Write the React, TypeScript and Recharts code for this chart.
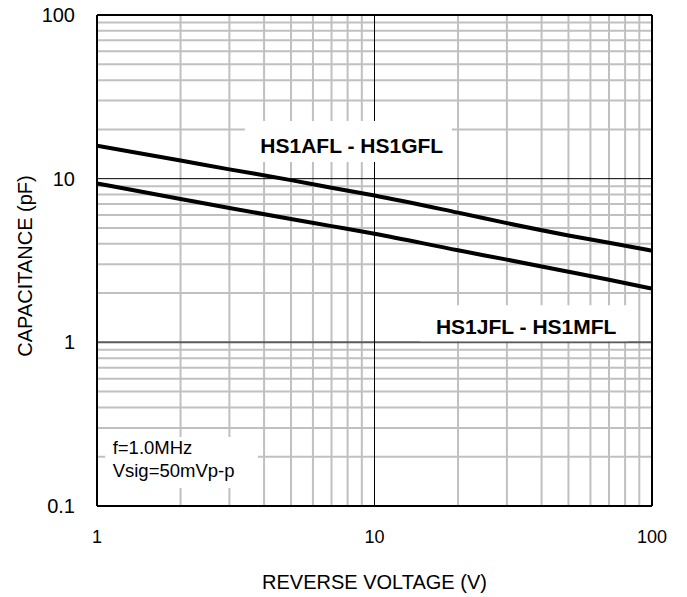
import React from 'react';
import {
  LineChart,
  Line,
  XAxis,
  YAxis,
  ReferenceLine,
  ReferenceDot,
  Label,
} from 'recharts';

// Reverse voltage (V)
const voltage = [1, 2, 3, 5, 7, 10, 20, 30, 50, 70, 100];
// Capacitance (pF), HS1AFL - HS1GFL
const capAtoG = [15.9, 12.9, 11.4, 9.8, 8.8, 7.9, 6.2, 5.35, 4.5, 4.06, 3.63];
// Capacitance (pF), HS1JFL - HS1MFL
const capJtoM = [9.36, 7.52, 6.62, 5.67, 5.13, 4.61, 3.65, 3.2, 2.7, 2.41, 2.13];

const xTickValues = [1, 10, 100];
const yTickValues = [0.1, 1, 10, 100];
const xMinorLines = [2, 3, 4, 5, 6, 7, 8, 9, 20, 30, 40, 50, 60, 70, 80, 90];
const yMinorLines = [
  0.2, 0.3, 0.4, 0.5, 0.6, 0.7, 0.8, 0.9, 2, 3, 4, 5, 6, 7, 8, 9, 20, 30, 40, 50, 60, 70, 80, 90,
];
const xMajorLines = [10];
const yMajorLines = [10];
const yUnitLines = [1];

const seriesLabels = ['HS1AFL - HS1GFL', 'HS1JFL - HS1MFL'];
const conditionLines = ['f=1.0MHz', 'Vsig=50mVp-p'];
const xAxisTitle = 'REVERSE VOLTAGE (V)';
const yAxisTitle = 'CAPACITANCE (pF)';

const data = voltage.map((v, i) => ({ v, ag: capAtoG[i], jm: capJtoM[i] }));

const FONT = '"Liberation Sans", Arial, Helvetica, sans-serif';

const boldLabel = (text: string) => (props: any) => {
  const vb = props.viewBox || {};
  const x = (vb.x || 0) + (vb.width || 0) / 2;
  const y = (vb.y || 0) + (vb.height || 0) / 2;
  return (
    <text
      x={x}
      y={y}
      dy="0.36em"
      textAnchor="middle"
      fontFamily={FONT}
      fontSize={21}
      fontWeight="bold"
      fill="#000"
    >
      {text}
    </text>
  );
};

const conditionLabel = (props: any) => {
  const vb = props.viewBox || {};
  const x = (vb.x || 0) + (vb.width || 0) / 2;
  const y = (vb.y || 0) + (vb.height || 0) / 2;
  return (
    <g>
      {conditionLines.map((t, i) => (
        <text
          key={i}
          x={x}
          y={y + i * 22.5}
          dy="0.36em"
          textAnchor="start"
          fontFamily={FONT}
          fontSize={18.5}
          fill="#000"
        >
          {t}
        </text>
      ))}
    </g>
  );
};

const yTitle = () => {
  const cx = 25;
  const cy = 266;
  return (
    <text
      x={cx}
      y={cy}
      dy="0.36em"
      transform={`rotate(-90, ${cx}, ${cy})`}
      textAnchor="middle"
      fontFamily={FONT}
      fontSize={20}
      fill="#000"
    >
      {yAxisTitle}
    </text>
  );
};

export default function App() {
  return (
    <div style={{ position: 'absolute', left: 0, top: 0 }}>
      <LineChart
        width={687}
        height={597}
        data={data}
        margin={{ top: 15, right: 35, left: 0, bottom: 0 }}
      >
        <XAxis
          dataKey="v"
          type="number"
          scale="log"
          domain={[1, 100]}
          ticks={xTickValues}
          allowDataOverflow
          height={91}
          axisLine={false}
          tickLine={false}
          tickSize={0}
          tickMargin={24}
          tick={{ fontSize: 18, fill: '#000', fontFamily: FONT }}
        >
          <Label
            value={xAxisTitle}
            position="insideBottom"
            offset={8}
            style={{ fontSize: 20, fill: '#000', fontFamily: FONT }}
          />
        </XAxis>
        <YAxis
          type="number"
          scale="log"
          domain={[0.1, 100]}
          ticks={yTickValues}
          allowDataOverflow
          width={97}
          axisLine={false}
          tickLine={false}
          tickSize={0}
          tickMargin={22}
          tick={{ fontSize: 20, fill: '#000', fontFamily: FONT }}
        >
          <Label content={yTitle} />
        </YAxis>

        {xMinorLines.map((x) => (
          <ReferenceLine key={'xm' + x} x={x} stroke="#c0c0c0" strokeWidth={2} />
        ))}
        {yMinorLines.map((y) => (
          <ReferenceLine key={'ym' + y} y={y} stroke="#c0c0c0" strokeWidth={2} />
        ))}
        {yUnitLines.map((y) => (
          <ReferenceLine key={'yu' + y} y={y} stroke="#5a5a5a" strokeWidth={2} />
        ))}
        {xMajorLines.map((x) => (
          <ReferenceLine key={'xM' + x} x={x} stroke="#000" strokeWidth={1} />
        ))}
        {yMajorLines.map((y) => (
          <ReferenceLine key={'yM' + y} y={y} stroke="#000" strokeWidth={1} />
        ))}

        {/* white backing boxes behind the annotations */}
        <ReferenceLine
          segment={[{ x: 3.41, y: 16.84 }, { x: 19.0, y: 16.84 }]}
          stroke="#fff"
          strokeWidth={41}
        />
        <ReferenceLine
          segment={[{ x: 14.6, y: 1.31 }, { x: 81.9, y: 1.31 }]}
          stroke="#fff"
          strokeWidth={36}
        />
        <ReferenceLine
          segment={[{ x: 1.07, y: 0.1845 }, { x: 3.8, y: 0.1845 }]}
          stroke="#fff"
          strokeWidth={51}
        />

        <ReferenceLine x={1} stroke="#000" strokeWidth={2} />
        <ReferenceLine x={100} stroke="#000" strokeWidth={2} />
        <ReferenceLine y={0.1} stroke="#000" strokeWidth={2} />
        <ReferenceLine y={100} stroke="#000" strokeWidth={2} />

        <ReferenceDot x={8.28} y={16.04} r={0} fill="none" stroke="none" label={boldLabel(seriesLabels[0])} />
        <ReferenceDot x={35.2} y={1.25} r={0} fill="none" stroke="none" label={boldLabel(seriesLabels[1])} />
        <ReferenceDot x={1.139} y={0.228} r={0} fill="none" stroke="none" label={conditionLabel} />

        <Line
          dataKey="ag"
          type="monotone"
          stroke="#000"
          strokeWidth={4}
          dot={false}
          isAnimationActive={false}
        />
        <Line
          dataKey="jm"
          type="monotone"
          stroke="#000"
          strokeWidth={4}
          dot={false}
          isAnimationActive={false}
        />
      </LineChart>
    </div>
  );
}
